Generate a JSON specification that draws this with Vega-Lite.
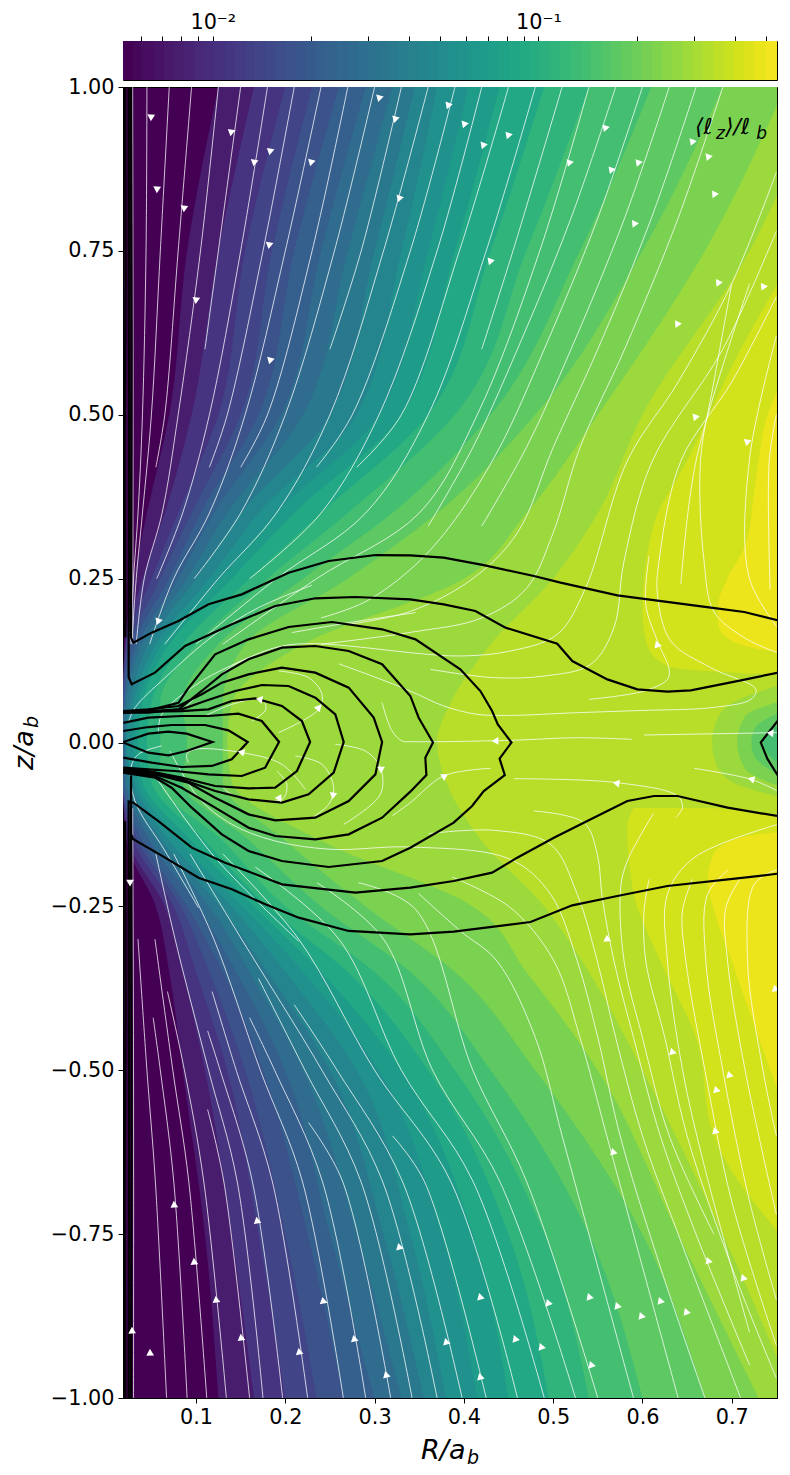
{"$schema":"https://vega.github.io/schema/vega-lite/v6.json","padding":{"left":10,"top":10,"right":13,"bottom":10},"background":"white","bounds":"flush","config":{"axis":{"grid":false,"domainColor":"black","tickColor":"black","labelColor":"black","labelFont":"DejaVu Sans","labelFontSize":20.8,"tickSize":5,"title":null}},"spacing":7,"vconcat":[
{"width":654,"height":39,"view":{"stroke":"black","strokeWidth":1},"data":{"values":[{"v":0.0053,"w":0.0057},{"v":0.0057,"w":0.0061},{"v":0.0061,"w":0.0066},{"v":0.0066,"w":0.0071},{"v":0.0071,"w":0.0076},{"v":0.0076,"w":0.0082},{"v":0.0082,"w":0.0088},{"v":0.0088,"w":0.0094},{"v":0.0094,"w":0.0101},{"v":0.0101,"w":0.0109},{"v":0.0109,"w":0.0117},{"v":0.0117,"w":0.0126},{"v":0.0126,"w":0.0135},{"v":0.0135,"w":0.0145},{"v":0.0145,"w":0.0156},{"v":0.0156,"w":0.0168},{"v":0.0168,"w":0.0181},{"v":0.0181,"w":0.0194},{"v":0.0194,"w":0.0209},{"v":0.0209,"w":0.0224},{"v":0.0224,"w":0.0241},{"v":0.0241,"w":0.0259},{"v":0.0259,"w":0.0278},{"v":0.0278,"w":0.0299},{"v":0.0299,"w":0.0321},{"v":0.0321,"w":0.0345},{"v":0.0345,"w":0.0371},{"v":0.0371,"w":0.0398},{"v":0.0398,"w":0.0428},{"v":0.0428,"w":0.046},{"v":0.046,"w":0.0494},{"v":0.0494,"w":0.0531},{"v":0.0531,"w":0.0571},{"v":0.0571,"w":0.0613},{"v":0.0613,"w":0.0659},{"v":0.0659,"w":0.0708},{"v":0.0708,"w":0.0761},{"v":0.0761,"w":0.0818},{"v":0.0818,"w":0.0879},{"v":0.0879,"w":0.0944},{"v":0.0944,"w":0.1015},{"v":0.1015,"w":0.109},{"v":0.109,"w":0.1172},{"v":0.1172,"w":0.126},{"v":0.126,"w":0.1354},{"v":0.1354,"w":0.1454},{"v":0.1454,"w":0.1563},{"v":0.1563,"w":0.168},{"v":0.168,"w":0.1805},{"v":0.1805,"w":0.194},{"v":0.194,"w":0.2085},{"v":0.2085,"w":0.224},{"v":0.224,"w":0.2407},{"v":0.2407,"w":0.259},{"v":0.259,"w":0.2784},{"v":0.2784,"w":0.299},{"v":0.299,"w":0.3213},{"v":0.3213,"w":0.345},{"v":0.345,"w":0.3708},{"v":0.3708,"w":0.398},{"v":0.398,"w":0.4277},{"v":0.4277,"w":0.46},{"v":0.46,"w":0.5},{"v":0.5,"w":0.54}]},"layer":[{"mark":{"type":"rect","strokeWidth":1,"clip":true},"encoding":{"x":{"field":"v","type":"quantitative","scale":{"type":"log","domain":[0.0053,0.54],"nice":false},"axis":{"orient":"top","domain":false,"values":[0.006,0.007,0.008,0.009,0.01,0.02,0.03,0.04,0.05,0.06,0.07,0.08,0.09,0.1,0.2,0.3,0.4,0.5],"labelExpr":"datum.value==0.01?'10⁻²':datum.value==0.1?'10⁻¹':''","labelOverlap":false,"labelPadding":4}},"x2":{"field":"w"},"stroke":{"field":"v","type":"quantitative","scale":{"type":"log","domain":[0.0053,0.54],"scheme":"viridis"},"legend":null},"color":{"field":"v","type":"quantitative","scale":{"type":"log","domain":[0.0053,0.54],"scheme":"viridis"},"legend":null}}}]},
{"width":654,"height":1311,"view":{"fill":"#440154","stroke":"black","strokeWidth":1},"encoding":{"x":{"field":"r","type":"quantitative","scale":{"domain":[0.0182,0.7507],"nice":false,"zero":false},"axis":{"values":[0.1,0.2,0.3,0.4,0.5,0.6,0.7],"format":".1f","labelPadding":4}},"y":{"field":"z","type":"quantitative","scale":{"domain":[-1,1],"nice":false},"axis":{"values":[-1,-0.75,-0.5,-0.25,0,0.25,0.5,0.75,1],"format":".2f","labelPadding":4}}},"layer":[
{"data":{"values":[
{"v":0.0075,"z":1,"r":0.125},{"v":0.0075,"z":0.75,"r":0.09},{"v":0.0075,"z":0.5,"r":0.07},{"v":0.0075,"z":0.35,"r":0.045},{"v":0.0075,"z":0.25,"r":0.03},{"v":0.0075,"z":0.15,"r":0.02},{"v":0.0075,"z":0.06,"r":0.018},{"v":0.0075,"z":0,"r":0.018},{"v":0.0075,"z":-0.06,"r":0.018},{"v":0.0075,"z":-0.15,"r":0.022},{"v":0.0075,"z":-0.25,"r":0.055},{"v":0.0075,"z":-0.35,"r":0.07},{"v":0.0075,"z":-0.5,"r":0.085},{"v":0.0075,"z":-0.75,"r":0.11},{"v":0.0075,"z":-1,"r":0.125},
{"v":0.0106,"z":1,"r":0.165},{"v":0.0106,"z":0.75,"r":0.125},{"v":0.0106,"z":0.5,"r":0.095},{"v":0.0106,"z":0.35,"r":0.065},{"v":0.0106,"z":0.25,"r":0.04},{"v":0.0106,"z":0.15,"r":0.021},{"v":0.0106,"z":0.06,"r":0.018},{"v":0.0106,"z":0,"r":0.018},{"v":0.0106,"z":-0.06,"r":0.018},{"v":0.0106,"z":-0.15,"r":0.025},{"v":0.0106,"z":-0.25,"r":0.065},{"v":0.0106,"z":-0.35,"r":0.085},{"v":0.0106,"z":-0.5,"r":0.11},{"v":0.0106,"z":-0.75,"r":0.14},{"v":0.0106,"z":-1,"r":0.165},
{"v":0.0134,"z":1,"r":0.2},{"v":0.0134,"z":0.75,"r":0.155},{"v":0.0134,"z":0.5,"r":0.125},{"v":0.0134,"z":0.35,"r":0.08},{"v":0.0134,"z":0.25,"r":0.05},{"v":0.0134,"z":0.15,"r":0.022},{"v":0.0134,"z":0.06,"r":0.018},{"v":0.0134,"z":0,"r":0.018},{"v":0.0134,"z":-0.06,"r":0.018},{"v":0.0134,"z":-0.15,"r":0.03},{"v":0.0134,"z":-0.25,"r":0.075},{"v":0.0134,"z":-0.35,"r":0.1},{"v":0.0134,"z":-0.5,"r":0.135},{"v":0.0134,"z":-0.75,"r":0.17},{"v":0.0134,"z":-1,"r":0.2},
{"v":0.0168,"z":1,"r":0.23},{"v":0.0168,"z":0.75,"r":0.185},{"v":0.0168,"z":0.5,"r":0.15},{"v":0.0168,"z":0.35,"r":0.095},{"v":0.0168,"z":0.25,"r":0.06},{"v":0.0168,"z":0.15,"r":0.026},{"v":0.0168,"z":0.06,"r":0.018},{"v":0.0168,"z":0,"r":0.018},{"v":0.0168,"z":-0.06,"r":0.018},{"v":0.0168,"z":-0.15,"r":0.035},{"v":0.0168,"z":-0.25,"r":0.083},{"v":0.0168,"z":-0.35,"r":0.115},{"v":0.0168,"z":-0.5,"r":0.155},{"v":0.0168,"z":-0.75,"r":0.2},{"v":0.0168,"z":-1,"r":0.235},
{"v":0.0213,"z":1,"r":0.26},{"v":0.0213,"z":0.75,"r":0.21},{"v":0.0213,"z":0.5,"r":0.17},{"v":0.0213,"z":0.35,"r":0.105},{"v":0.0213,"z":0.25,"r":0.07},{"v":0.0213,"z":0.15,"r":0.03},{"v":0.0213,"z":0.06,"r":0.019},{"v":0.0213,"z":0,"r":0.018},{"v":0.0213,"z":-0.06,"r":0.018},{"v":0.0213,"z":-0.15,"r":0.04},{"v":0.0213,"z":-0.25,"r":0.09},{"v":0.0213,"z":-0.35,"r":0.13},{"v":0.0213,"z":-0.5,"r":0.175},{"v":0.0213,"z":-0.75,"r":0.225},{"v":0.0213,"z":-1,"r":0.265},
{"v":0.0268,"z":1,"r":0.29},{"v":0.0268,"z":0.75,"r":0.24},{"v":0.0268,"z":0.5,"r":0.195},{"v":0.0268,"z":0.35,"r":0.12},{"v":0.0268,"z":0.25,"r":0.08},{"v":0.0268,"z":0.15,"r":0.035},{"v":0.0268,"z":0.06,"r":0.02},{"v":0.0268,"z":0,"r":0.018},{"v":0.0268,"z":-0.06,"r":0.02},{"v":0.0268,"z":-0.15,"r":0.048},{"v":0.0268,"z":-0.25,"r":0.102},{"v":0.0268,"z":-0.35,"r":0.145},{"v":0.0268,"z":-0.5,"r":0.2},{"v":0.0268,"z":-0.75,"r":0.25},{"v":0.0268,"z":-1,"r":0.3},
{"v":0.0338,"z":1,"r":0.32},{"v":0.0338,"z":0.75,"r":0.27},{"v":0.0338,"z":0.5,"r":0.22},{"v":0.0338,"z":0.35,"r":0.135},{"v":0.0338,"z":0.25,"r":0.09},{"v":0.0338,"z":0.15,"r":0.04},{"v":0.0338,"z":0.06,"r":0.022},{"v":0.0338,"z":0,"r":0.02},{"v":0.0338,"z":-0.06,"r":0.022},{"v":0.0338,"z":-0.15,"r":0.055},{"v":0.0338,"z":-0.25,"r":0.115},{"v":0.0338,"z":-0.35,"r":0.16},{"v":0.0338,"z":-0.5,"r":0.22},{"v":0.0338,"z":-0.75,"r":0.28},{"v":0.0338,"z":-1,"r":0.33},
{"v":0.0426,"z":1,"r":0.345},{"v":0.0426,"z":0.75,"r":0.3},{"v":0.0426,"z":0.5,"r":0.25},{"v":0.0426,"z":0.35,"r":0.15},{"v":0.0426,"z":0.25,"r":0.1},{"v":0.0426,"z":0.15,"r":0.047},{"v":0.0426,"z":0.06,"r":0.026},{"v":0.0426,"z":0,"r":0.021},{"v":0.0426,"z":-0.06,"r":0.026},{"v":0.0426,"z":-0.15,"r":0.062},{"v":0.0426,"z":-0.25,"r":0.127},{"v":0.0426,"z":-0.35,"r":0.18},{"v":0.0426,"z":-0.5,"r":0.25},{"v":0.0426,"z":-0.75,"r":0.31},{"v":0.0426,"z":-1,"r":0.355},
{"v":0.0537,"z":1,"r":0.37},{"v":0.0537,"z":0.75,"r":0.33},{"v":0.0537,"z":0.5,"r":0.28},{"v":0.0537,"z":0.35,"r":0.17},{"v":0.0537,"z":0.25,"r":0.115},{"v":0.0537,"z":0.15,"r":0.055},{"v":0.0537,"z":0.06,"r":0.03},{"v":0.0537,"z":0,"r":0.022},{"v":0.0537,"z":-0.06,"r":0.03},{"v":0.0537,"z":-0.15,"r":0.07},{"v":0.0537,"z":-0.25,"r":0.14},{"v":0.0537,"z":-0.35,"r":0.2},{"v":0.0537,"z":-0.5,"r":0.28},{"v":0.0537,"z":-0.75,"r":0.34},{"v":0.0537,"z":-1,"r":0.38},
{"v":0.0678,"z":1,"r":0.405},{"v":0.0678,"z":0.75,"r":0.36},{"v":0.0678,"z":0.5,"r":0.305},{"v":0.0678,"z":0.35,"r":0.19},{"v":0.0678,"z":0.25,"r":0.127},{"v":0.0678,"z":0.15,"r":0.062},{"v":0.0678,"z":0.06,"r":0.035},{"v":0.0678,"z":0,"r":0.03},{"v":0.0678,"z":-0.06,"r":0.035},{"v":0.0678,"z":-0.15,"r":0.082},{"v":0.0678,"z":-0.25,"r":0.152},{"v":0.0678,"z":-0.35,"r":0.22},{"v":0.0678,"z":-0.5,"r":0.305},{"v":0.0678,"z":-0.75,"r":0.375},{"v":0.0678,"z":-1,"r":0.415},
{"v":0.0855,"z":1,"r":0.44},{"v":0.0855,"z":0.75,"r":0.39},{"v":0.0855,"z":0.5,"r":0.33},{"v":0.0855,"z":0.35,"r":0.21},{"v":0.0855,"z":0.25,"r":0.14},{"v":0.0855,"z":0.15,"r":0.07},{"v":0.0855,"z":0.06,"r":0.04},{"v":0.0855,"z":0,"r":0.035},{"v":0.0855,"z":-0.06,"r":0.04},{"v":0.0855,"z":-0.15,"r":0.095},{"v":0.0855,"z":-0.25,"r":0.165},{"v":0.0855,"z":-0.35,"r":0.24},{"v":0.0855,"z":-0.5,"r":0.33},{"v":0.0855,"z":-0.75,"r":0.41},{"v":0.0855,"z":-1,"r":0.45},
{"v":0.108,"z":1,"r":0.49},{"v":0.108,"z":0.75,"r":0.43},{"v":0.108,"z":0.5,"r":0.36},{"v":0.108,"z":0.35,"r":0.24},{"v":0.108,"z":0.25,"r":0.16},{"v":0.108,"z":0.15,"r":0.085},{"v":0.108,"z":0.06,"r":0.05},{"v":0.108,"z":0,"r":0.045},{"v":0.108,"z":-0.06,"r":0.05},{"v":0.108,"z":-0.15,"r":0.11},{"v":0.108,"z":-0.25,"r":0.18},{"v":0.108,"z":-0.35,"r":0.27},{"v":0.108,"z":-0.5,"r":0.36},{"v":0.108,"z":-0.75,"r":0.45},{"v":0.108,"z":-1,"r":0.495},
{"v":0.136,"z":1,"r":0.54},{"v":0.136,"z":0.75,"r":0.47},{"v":0.136,"z":0.5,"r":0.39},{"v":0.136,"z":0.35,"r":0.27},{"v":0.136,"z":0.25,"r":0.18},{"v":0.136,"z":0.15,"r":0.1},{"v":0.136,"z":0.06,"r":0.06},{"v":0.136,"z":0,"r":0.06},{"v":0.136,"z":-0.06,"r":0.06},{"v":0.136,"z":-0.15,"r":0.13},{"v":0.136,"z":-0.25,"r":0.2},{"v":0.136,"z":-0.35,"r":0.3},{"v":0.136,"z":-0.5,"r":0.39},{"v":0.136,"z":-0.75,"r":0.49},{"v":0.136,"z":-1,"r":0.54},
{"v":0.171,"z":1,"r":0.61},{"v":0.171,"z":0.75,"r":0.53},{"v":0.171,"z":0.5,"r":0.43},{"v":0.171,"z":0.35,"r":0.32},{"v":0.171,"z":0.25,"r":0.22},{"v":0.171,"z":0.15,"r":0.125},{"v":0.171,"z":0.06,"r":0.085},{"v":0.171,"z":0,"r":0.09},{"v":0.171,"z":-0.06,"r":0.085},{"v":0.171,"z":-0.15,"r":0.16},{"v":0.171,"z":-0.25,"r":0.24},{"v":0.171,"z":-0.35,"r":0.34},{"v":0.171,"z":-0.5,"r":0.43},{"v":0.171,"z":-0.75,"r":0.54},{"v":0.171,"z":-1,"r":0.6},
{"v":0.216,"z":1,"r":0.69},{"v":0.216,"z":0.75,"r":0.6},{"v":0.216,"z":0.5,"r":0.48},{"v":0.216,"z":0.35,"r":0.37},{"v":0.216,"z":0.25,"r":0.27},{"v":0.216,"z":0.15,"r":0.155},{"v":0.216,"z":0.06,"r":0.13},{"v":0.216,"z":0,"r":0.13},{"v":0.216,"z":-0.06,"r":0.13},{"v":0.216,"z":-0.15,"r":0.2},{"v":0.216,"z":-0.25,"r":0.29},{"v":0.216,"z":-0.35,"r":0.39},{"v":0.216,"z":-0.5,"r":0.48},{"v":0.216,"z":-0.75,"r":0.6},{"v":0.216,"z":-1,"r":0.67},
{"v":0.273,"z":1,"r":0.76},{"v":0.273,"z":0.75,"r":0.67},{"v":0.273,"z":0.5,"r":0.55},{"v":0.273,"z":0.35,"r":0.47},{"v":0.273,"z":0.25,"r":0.4},{"v":0.273,"z":0.15,"r":0.22},{"v":0.273,"z":0.06,"r":0.14},{"v":0.273,"z":0,"r":0.135},{"v":0.273,"z":-0.06,"r":0.14},{"v":0.273,"z":-0.15,"r":0.24},{"v":0.273,"z":-0.25,"r":0.41},{"v":0.273,"z":-0.35,"r":0.47},{"v":0.273,"z":-0.5,"r":0.55},{"v":0.273,"z":-0.75,"r":0.64},{"v":0.273,"z":-1,"r":0.73},
{"v":0.33,"z":1,"r":0.8},{"v":0.33,"z":0.75,"r":0.72},{"v":0.33,"z":0.5,"r":0.6},{"v":0.33,"z":0.35,"r":0.55},{"v":0.33,"z":0.25,"r":0.5},{"v":0.33,"z":0.15,"r":0.43},{"v":0.33,"z":0.06,"r":0.385},{"v":0.33,"z":0,"r":0.37},{"v":0.33,"z":-0.06,"r":0.38},{"v":0.33,"z":-0.15,"r":0.42},{"v":0.33,"z":-0.25,"r":0.49},{"v":0.33,"z":-0.35,"r":0.54},{"v":0.33,"z":-0.5,"r":0.6},{"v":0.33,"z":-0.75,"r":0.69},{"v":0.33,"z":-1,"r":0.77}
]},"mark":{"type":"area","orient":"horizontal","clip":true,"interpolate":"monotone"},"encoding":{"x":{"field":"r","type":"quantitative","stack":null},"x2":{"datum":0.7507},"detail":{"field":"v","type":"quantitative"},"color":{"field":"v","type":"quantitative","scale":{"type":"log","domain":[0.0053,0.54],"scheme":"viridis"},"legend":null}}},
{"data":{"values":[
{"g":"a","v":0.397,"z":0.105,"r":0.72,"b":0.76},{"g":"a","v":0.397,"z":0.115,"r":0.63,"b":0.76},{"g":"a","v":0.397,"z":0.15,"r":0.605,"b":0.76},{"g":"a","v":0.397,"z":0.2,"r":0.6,"b":0.76},{"g":"a","v":0.397,"z":0.33,"r":0.612,"b":0.76},{"g":"a","v":0.397,"z":0.43,"r":0.65,"b":0.76},{"g":"a","v":0.397,"z":0.6,"r":0.71,"b":0.76},{"g":"a","v":0.397,"z":0.72,"r":0.76,"b":0.76},
{"g":"b","v":0.477,"z":0.135,"r":0.76,"b":0.76},{"g":"b","v":0.477,"z":0.155,"r":0.7,"b":0.76},{"g":"b","v":0.477,"z":0.18,"r":0.685,"b":0.76},{"g":"b","v":0.477,"z":0.21,"r":0.685,"b":0.76},{"g":"b","v":0.477,"z":0.25,"r":0.695,"b":0.76},{"g":"b","v":0.477,"z":0.3,"r":0.715,"b":0.76},{"g":"b","v":0.477,"z":0.38,"r":0.725,"b":0.76},{"g":"b","v":0.477,"z":0.43,"r":0.73,"b":0.76},{"g":"b","v":0.477,"z":0.5,"r":0.74,"b":0.76},{"g":"b","v":0.477,"z":0.56,"r":0.76,"b":0.76},
{"g":"c","v":0.397,"z":-0.1,"r":0.59,"b":0.68},{"g":"c","v":0.397,"z":-0.115,"r":0.585,"b":0.76},{"g":"c","v":0.397,"z":-0.13,"r":0.583,"b":0.76},{"g":"c","v":0.397,"z":-0.23,"r":0.59,"b":0.76},{"g":"c","v":0.397,"z":-0.333,"r":0.62,"b":0.76},{"g":"c","v":0.397,"z":-0.45,"r":0.66,"b":0.76},{"g":"c","v":0.397,"z":-0.6,"r":0.68,"b":0.76},{"g":"c","v":0.397,"z":-0.76,"r":0.76,"b":0.76},
{"g":"d","v":0.477,"z":-0.135,"r":0.76,"b":0.76},{"g":"d","v":0.477,"z":-0.145,"r":0.71,"b":0.76},{"g":"d","v":0.477,"z":-0.17,"r":0.68,"b":0.76},{"g":"d","v":0.477,"z":-0.21,"r":0.673,"b":0.76},{"g":"d","v":0.477,"z":-0.255,"r":0.68,"b":0.76},{"g":"d","v":0.477,"z":-0.333,"r":0.7,"b":0.76},{"g":"d","v":0.477,"z":-0.45,"r":0.73,"b":0.76},{"g":"d","v":0.477,"z":-0.56,"r":0.76,"b":0.76},
{"g":"e","v":0.273,"z":0.09,"r":0.76,"b":0.76},{"g":"e","v":0.273,"z":0.06,"r":0.7,"b":0.76},{"g":"e","v":0.273,"z":0.03,"r":0.682,"b":0.76},{"g":"e","v":0.273,"z":0,"r":0.678,"b":0.76},{"g":"e","v":0.273,"z":-0.03,"r":0.682,"b":0.76},{"g":"e","v":0.273,"z":-0.06,"r":0.7,"b":0.76},{"g":"e","v":0.273,"z":-0.085,"r":0.76,"b":0.76},
{"g":"f","v":0.216,"z":0.065,"r":0.76,"b":0.76},{"g":"f","v":0.216,"z":0.04,"r":0.715,"b":0.76},{"g":"f","v":0.216,"z":0,"r":0.706,"b":0.76},{"g":"f","v":0.216,"z":-0.04,"r":0.715,"b":0.76},{"g":"f","v":0.216,"z":-0.07,"r":0.76,"b":0.76},
{"g":"h","v":0.171,"z":0.05,"r":0.76,"b":0.76},{"g":"h","v":0.171,"z":0.02,"r":0.725,"b":0.76},{"g":"h","v":0.171,"z":0,"r":0.722,"b":0.76},{"g":"h","v":0.171,"z":-0.02,"r":0.725,"b":0.76},{"g":"h","v":0.171,"z":-0.055,"r":0.76,"b":0.76},
{"g":"i","v":0.136,"z":0.035,"r":0.76,"b":0.76},{"g":"i","v":0.136,"z":0,"r":0.735,"b":0.76},{"g":"i","v":0.136,"z":-0.04,"r":0.76,"b":0.76}
]},"mark":{"type":"area","orient":"horizontal","clip":true,"interpolate":"monotone"},"encoding":{"x":{"field":"r","type":"quantitative","stack":null},"x2":{"field":"b"},"detail":{"field":"g"},"color":{"field":"v","type":"quantitative","scale":{"type":"log","domain":[0.0053,0.54],"scheme":"viridis"},"legend":null}}},
{"data":{"values":[
{"c":"s1","r":0.045,"z":1},{"c":"s1","r":0.044,"z":0.75},{"c":"s1","r":0.04,"z":0.5},{"c":"s1","r":0.035,"z":0.35},{"c":"s1","r":0.03,"z":0.25},{"c":"s1","r":0.026,"z":0.15},
{"c":"s2","r":0.07,"z":1},{"c":"s2","r":0.06,"z":0.75},{"c":"s2","r":0.05,"z":0.5},{"c":"s2","r":0.04,"z":0.35},{"c":"s2","r":0.033,"z":0.25},{"c":"s2","r":0.028,"z":0.15},
{"c":"s3","r":0.095,"z":1},{"c":"s3","r":0.08,"z":0.75},{"c":"s3","r":0.065,"z":0.5},{"c":"s3","r":0.055,"z":0.42},
{"c":"s4","r":0.125,"z":1},{"c":"s4","r":0.105,"z":0.75},{"c":"s4","r":0.08,"z":0.5},{"c":"s4","r":0.062,"z":0.35},{"c":"s4","r":0.042,"z":0.25},{"c":"s4","r":0.033,"z":0.15},
{"c":"s5","r":0.15,"z":1},{"c":"s5","r":0.125,"z":0.75},{"c":"s5","r":0.11,"z":0.6},
{"c":"s6","r":0.18,"z":1},{"c":"s6","r":0.15,"z":0.75},{"c":"s6","r":0.115,"z":0.5},{"c":"s6","r":0.085,"z":0.35},{"c":"s6","r":0.056,"z":0.25},
{"c":"s7","r":0.21,"z":1},{"c":"s7","r":0.175,"z":0.75},{"c":"s7","r":0.135,"z":0.5},{"c":"s7","r":0.115,"z":0.42},
{"c":"s8","r":0.24,"z":1},{"c":"s8","r":0.2,"z":0.75},{"c":"s8","r":0.155,"z":0.5},{"c":"s8","r":0.115,"z":0.35},{"c":"s8","r":0.075,"z":0.25},{"c":"s8","r":0.048,"z":0.15},
{"c":"s9","r":0.27,"z":1},{"c":"s9","r":0.23,"z":0.75},{"c":"s9","r":0.18,"z":0.5},{"c":"s9","r":0.15,"z":0.42},
{"c":"s10","r":0.3,"z":1},{"c":"s10","r":0.255,"z":0.75},{"c":"s10","r":0.2,"z":0.5},{"c":"s10","r":0.15,"z":0.35},{"c":"s10","r":0.098,"z":0.25},
{"c":"s11","r":0.33,"z":1},{"c":"s11","r":0.285,"z":0.75},{"c":"s11","r":0.25,"z":0.6},
{"c":"s12","r":0.36,"z":1},{"c":"s12","r":0.31,"z":0.75},{"c":"s12","r":0.25,"z":0.5},{"c":"s12","r":0.19,"z":0.35},{"c":"s12","r":0.125,"z":0.25},{"c":"s12","r":0.065,"z":0.15},
{"c":"s13","r":0.39,"z":1},{"c":"s13","r":0.34,"z":0.75},{"c":"s13","r":0.275,"z":0.5},{"c":"s13","r":0.235,"z":0.42},
{"c":"s14","r":0.42,"z":1},{"c":"s14","r":0.37,"z":0.75},{"c":"s14","r":0.305,"z":0.5},{"c":"s14","r":0.24,"z":0.35},{"c":"s14","r":0.16,"z":0.25},
{"c":"s15","r":0.45,"z":1},{"c":"s15","r":0.395,"z":0.75},{"c":"s15","r":0.33,"z":0.5},{"c":"s15","r":0.28,"z":0.42},
{"c":"s16","r":0.48,"z":1},{"c":"s16","r":0.425,"z":0.75},{"c":"s16","r":0.36,"z":0.5},{"c":"s16","r":0.29,"z":0.35},{"c":"s16","r":0.19,"z":0.25},{"c":"s16","r":0.1,"z":0.15},
{"c":"s17","r":0.51,"z":1},{"c":"s17","r":0.455,"z":0.75},{"c":"s17","r":0.42,"z":0.6},
{"c":"s18","r":0.54,"z":1},{"c":"s18","r":0.485,"z":0.75},{"c":"s18","r":0.415,"z":0.5},{"c":"s18","r":0.35,"z":0.35},{"c":"s18","r":0.235,"z":0.25},{"c":"s18","r":0.13,"z":0.15},
{"c":"t1","r":0.57,"z":1},{"c":"t1","r":0.52,"z":0.8},{"c":"t1","r":0.46,"z":0.6},{"c":"t1","r":0.41,"z":0.45},{"c":"t1","r":0.36,"z":0.33},
{"c":"t2","r":0.6,"z":1},{"c":"t2","r":0.55,"z":0.8},{"c":"t2","r":0.49,"z":0.6},{"c":"t2","r":0.44,"z":0.45},{"c":"t2","r":0.39,"z":0.34},{"c":"t2","r":0.345,"z":0.27},{"c":"t2","r":0.29,"z":0.215},{"c":"t2","r":0.24,"z":0.19},
{"c":"t3","r":0.63,"z":1},{"c":"t3","r":0.58,"z":0.8},{"c":"t3","r":0.52,"z":0.6},{"c":"t3","r":0.47,"z":0.45},{"c":"t3","r":0.42,"z":0.33},
{"c":"t4","r":0.66,"z":1},{"c":"t4","r":0.61,"z":0.8},{"c":"t4","r":0.55,"z":0.6},{"c":"t4","r":0.5,"z":0.45},{"c":"t4","r":0.46,"z":0.32},{"c":"t4","r":0.41,"z":0.25},{"c":"t4","r":0.34,"z":0.2},{"c":"t4","r":0.27,"z":0.18},
{"c":"t5","r":0.69,"z":1},{"c":"t5","r":0.64,"z":0.8},{"c":"t5","r":0.58,"z":0.6},{"c":"t5","r":0.53,"z":0.45},{"c":"t5","r":0.5,"z":0.32},{"c":"t5","r":0.47,"z":0.235},{"c":"t5","r":0.42,"z":0.19},{"c":"t5","r":0.34,"z":0.168},{"c":"t5","r":0.24,"z":0.15},
{"c":"a","r":0.75,"z":0.87},{"c":"a","r":0.7,"z":0.7},{"c":"a","r":0.64,"z":0.55},{"c":"a","r":0.583,"z":0.4294},{"c":"a","r":0.5364,"z":0.2362},{"c":"a","r":0.5046,"z":0.165},{"c":"a","r":0.4522,"z":0.1396},{"c":"a","r":0.3961,"z":0.132},{"c":"a","r":0.34,"z":0.137},{"c":"a","r":0.2897,"z":0.1447},{"c":"a","r":0.2336,"z":0.1508},{"c":"a","r":0.1962,"z":0.1472},{"c":"a","r":0.1588,"z":0.1294},{"c":"a","r":0.1326,"z":0.109},{"c":"a","r":0.0839,"z":0.048},
{"c":"b","r":0.75,"z":0.78},{"c":"b","r":0.69,"z":0.6},{"c":"b","r":0.611,"z":0.4294},{"c":"b","r":0.5794,"z":0.2768},{"c":"b","r":0.568,"z":0.175},{"c":"b","r":0.542,"z":0.1192},{"c":"b","r":0.4896,"z":0.1014},{"c":"b","r":0.4335,"z":0.0989},{"c":"b","r":0.3624,"z":0.1116},
{"c":"d","r":0.75,"z":0.68},{"c":"d","r":0.7,"z":0.55},{"c":"d","r":0.643,"z":0.4294},{"c":"d","r":0.6186,"z":0.2768},{"c":"d","r":0.6168,"z":0.226},{"c":"d","r":0.6317,"z":0.1548},{"c":"d","r":0.6766,"z":0.1141},{"c":"d","r":0.7271,"z":0.0811},{"c":"d","r":0.7215,"z":0.0658},{"c":"d","r":0.6766,"z":0.0531},{"c":"d","r":0.6018,"z":0.049},{"c":"d","r":0.527,"z":0.0455},{"c":"d","r":0.452,"z":0.0414},{"c":"d","r":0.4148,"z":0.043},{"c":"d","r":0.3774,"z":0.0557},{"c":"d","r":0.34,"z":0.0785},{"c":"d","r":0.3,"z":0.1},{"c":"d","r":0.26,"z":0.12},
{"c":"e","r":0.7,"z":0.7},{"c":"e","r":0.68,"z":0.55},{"c":"e","r":0.665,"z":0.4294},{"c":"e","r":0.669,"z":0.2768},{"c":"e","r":0.68,"z":0.2},{"c":"e","r":0.714,"z":0.16},{"c":"e","r":0.751,"z":0.137},
{"c":"f","r":0.75,"z":0.62},{"c":"f","r":0.7196,"z":0.4294},{"c":"f","r":0.7196,"z":0.2515},{"c":"f","r":0.7514,"z":0.175},
{"c":"h","r":0.75,"z":0.5},{"c":"h","r":0.742,"z":0.4294},{"c":"h","r":0.743,"z":0.2336},
{"c":"i","r":0.72,"z":0.7},{"c":"i","r":0.66,"z":0.4294},{"c":"i","r":0.643,"z":0.2413},
{"c":"j","r":0.6074,"z":0.2845},{"c":"j","r":0.6037,"z":0.2108},{"c":"j","r":0.6168,"z":0.1548},{"c":"j","r":0.6299,"z":0.1116},{"c":"j","r":0.628,"z":0.0963},{"c":"j","r":0.6018,"z":0.0785},{"c":"j","r":0.54,"z":0.0658},
{"c":"k","r":0.588,"z":0.0048},{"c":"k","r":0.527,"z":0.0073},{"c":"k","r":0.4522,"z":0.0033},{"c":"k","r":0.34,"z":0.0013},{"c":"k","r":0.3308,"z":0.0023},{"c":"k","r":0.3196,"z":0.0175},{"c":"k","r":0.3084,"z":0.0608},
{"c":"l","r":0.6018,"z":0.0114},{"c":"l","r":0.7514,"z":0.015},
{"c":"m","r":0.4298,"z":-0.0394},{"c":"m","r":0.3774,"z":-0.051},{"c":"m","r":0.34,"z":-0.0918},{"c":"m","r":0.3196,"z":-0.1121},
{"c":"n","r":0.4559,"z":-0.0552},{"c":"n","r":0.5719,"z":-0.0613},{"c":"n","r":0.6392,"z":-0.0816},{"c":"n","r":0.6448,"z":-0.0994},{"c":"n","r":0.6373,"z":-0.1147},
{"c":"o","r":0.6579,"z":-0.0394},{"c":"o","r":0.7215,"z":-0.0562},{"c":"o","r":0.7514,"z":-0.074},
{"c":"p","r":0.4784,"z":-0.1045},{"c":"p","r":0.5345,"z":-0.1223},{"c":"p","r":0.5494,"z":-0.1706},{"c":"p","r":0.555,"z":-0.2367},{"c":"p","r":0.5681,"z":-0.3333},{"c":"p","r":0.59,"z":-0.45},{"c":"p","r":0.62,"z":-0.6},{"c":"p","r":0.66,"z":-0.75},{"c":"p","r":0.72,"z":-0.95},
{"c":"q","r":0.6123,"z":-0.108},{"c":"q","r":0.5831,"z":-0.1808},{"c":"q","r":0.5756,"z":-0.2215},{"c":"q","r":0.5794,"z":-0.3333},{"c":"q","r":0.6,"z":-0.45},{"c":"q","r":0.63,"z":-0.6},{"c":"q","r":0.68,"z":-0.75},
{"c":"u","r":0.3606,"z":-0.1391},{"c":"u","r":0.4335,"z":-0.134},{"c":"u","r":0.4971,"z":-0.1554},{"c":"u","r":0.527,"z":-0.2316},{"c":"u","r":0.5494,"z":-0.3333},{"c":"u","r":0.57,"z":-0.45},{"c":"u","r":0.6,"z":-0.6},{"c":"u","r":0.64,"z":-0.75},{"c":"u","r":0.71,"z":-1},
{"c":"w","r":0.0709,"z":-0.013},{"c":"w","r":0.1027,"z":-0.0842},{"c":"w","r":0.1401,"z":-0.1248},{"c":"w","r":0.1887,"z":-0.1503},{"c":"w","r":0.2523,"z":-0.163},{"c":"w","r":0.34,"z":-0.1594},{"c":"w","r":0.4522,"z":-0.1783},{"c":"w","r":0.4971,"z":-0.2316},{"c":"w","r":0.527,"z":-0.3333},{"c":"w","r":0.55,"z":-0.45},{"c":"w","r":0.575,"z":-0.6},{"c":"w","r":0.62,"z":-0.8},{"c":"w","r":0.67,"z":-1},
{"c":"x","r":0.3868,"z":-0.2052},{"c":"x","r":0.4522,"z":-0.252},{"c":"x","r":0.5008,"z":-0.3333},{"c":"x","r":0.53,"z":-0.45},{"c":"x","r":0.56,"z":-0.6},{"c":"x","r":0.6,"z":-0.8},{"c":"x","r":0.64,"z":-1},
{"c":"y","r":0.3494,"z":-0.2306},{"c":"y","r":0.3961,"z":-0.2876},{"c":"y","r":0.437,"z":-0.3333},{"c":"y","r":0.48,"z":-0.45},{"c":"y","r":0.51,"z":-0.6},{"c":"y","r":0.55,"z":-0.8},{"c":"y","r":0.59,"z":-1},
{"c":"z","r":0.7514,"z":-0.125},{"c":"z","r":0.6579,"z":-0.1757},{"c":"z","r":0.628,"z":-0.2316},{"c":"z","r":0.628,"z":-0.3333},{"c":"z","r":0.645,"z":-0.5},{"c":"z","r":0.67,"z":-0.65},{"c":"z","r":0.72,"z":-0.9},
{"c":"a1","r":0.6074,"z":-0.2088},{"c":"a1","r":0.6018,"z":-0.2571},{"c":"a1","r":0.6037,"z":-0.3333},{"c":"a1","r":0.625,"z":-0.45},{"c":"a1","r":0.65,"z":-0.6},{"c":"a1","r":0.7,"z":-0.8},{"c":"a1","r":0.75,"z":-0.97},
{"c":"a2","r":0.656,"z":-0.2088},{"c":"a2","r":0.6448,"z":-0.2571},{"c":"a2","r":0.6486,"z":-0.3333},{"c":"a2","r":0.67,"z":-0.5},{"c":"a2","r":0.7,"z":-0.7},{"c":"a2","r":0.75,"z":-0.92},
{"c":"a3","r":0.6953,"z":-0.195},{"c":"a3","r":0.6729,"z":-0.2316},{"c":"a3","r":0.671,"z":-0.3333},{"c":"a3","r":0.69,"z":-0.5},{"c":"a3","r":0.72,"z":-0.7},{"c":"a3","r":0.75,"z":-0.85},
{"c":"a4","r":0.7103,"z":-0.2062},{"c":"a4","r":0.6934,"z":-0.252},{"c":"a4","r":0.6953,"z":-0.3333},{"c":"a4","r":0.715,"z":-0.5},{"c":"a4","r":0.75,"z":-0.72},
{"c":"a5","r":0.7514,"z":-0.1935},{"c":"a5","r":0.7252,"z":-0.2164},{"c":"a5","r":0.7177,"z":-0.3333},{"c":"a5","r":0.735,"z":-0.5},{"c":"a5","r":0.75,"z":-0.6},
{"c":"b1","r":0.035,"z":-0.3},{"c":"b1","r":0.045,"z":-0.5},{"c":"b1","r":0.0544,"z":-0.669},{"c":"b1","r":0.067,"z":-1},
{"c":"b2","r":0.052,"z":-0.42},{"c":"b2","r":0.06,"z":-0.5},{"c":"b2","r":0.075,"z":-0.669},{"c":"b2","r":0.09,"z":-1},
{"c":"b3","r":0.054,"z":-0.3},{"c":"b3","r":0.074,"z":-0.5},{"c":"b3","r":0.0918,"z":-0.669},{"c":"b3","r":0.112,"z":-1},
{"c":"b4","r":0.068,"z":-0.38},{"c":"b4","r":0.087,"z":-0.5},{"c":"b4","r":0.1086,"z":-0.669},{"c":"b4","r":0.134,"z":-1},
{"c":"b5","r":0.113,"z":-0.56},{"c":"b5","r":0.131,"z":-0.669},{"c":"b5","r":0.16,"z":-1},
{"c":"b6","r":0.055,"z":-0.17},{"c":"b6","r":0.0765,"z":-0.3},{"c":"b6","r":0.114,"z":-0.5},{"c":"b6","r":0.146,"z":-0.669},{"c":"b6","r":0.175,"z":-1},
{"c":"b7","r":0.113,"z":-0.44},{"c":"b7","r":0.127,"z":-0.5},{"c":"b7","r":0.163,"z":-0.669},{"c":"b7","r":0.197,"z":-1},
{"c":"b8","r":0.118,"z":-0.38},{"c":"b8","r":0.145,"z":-0.5},{"c":"b8","r":0.1853,"z":-0.669},{"c":"b8","r":0.225,"z":-1},
{"c":"b9","r":0.075,"z":-0.17},{"c":"b9","r":0.12,"z":-0.3},{"c":"b9","r":0.172,"z":-0.5},{"c":"b9","r":0.219,"z":-0.669},{"c":"b9","r":0.265,"z":-1},
{"c":"b10","r":0.16,"z":-0.42},{"c":"b10","r":0.188,"z":-0.5},{"c":"b10","r":0.2414,"z":-0.669},{"c":"b10","r":0.29,"z":-1},
{"c":"b11","r":0.226,"z":-0.58},{"c":"b11","r":0.264,"z":-0.669},{"c":"b11","r":0.318,"z":-1},
{"c":"b12","r":0.17,"z":-0.36},{"c":"b12","r":0.222,"z":-0.5},{"c":"b12","r":0.2845,"z":-0.669},{"c":"b12","r":0.342,"z":-1},
{"c":"b13","r":0.0933,"z":-0.17},{"c":"b13","r":0.151,"z":-0.3},{"c":"b13","r":0.241,"z":-0.5},{"c":"b13","r":0.3087,"z":-0.669},{"c":"b13","r":0.37,"z":-1},
{"c":"b14","r":0.21,"z":-0.4},{"c":"b14","r":0.258,"z":-0.5},{"c":"b14","r":0.331,"z":-0.669},{"c":"b14","r":0.398,"z":-1},
{"c":"b15","r":0.32,"z":-0.6},{"c":"b15","r":0.3555,"z":-0.669},{"c":"b15","r":0.425,"z":-1},
{"c":"b16","r":0.13,"z":-0.17},{"c":"b16","r":0.215,"z":-0.3},{"c":"b16","r":0.3,"z":-0.5},{"c":"b16","r":0.385,"z":-0.669},{"c":"b16","r":0.46,"z":-1},
{"c":"b17","r":0.1663,"z":-0.19},{"c":"b17","r":0.26,"z":-0.3},{"c":"b17","r":0.33,"z":-0.5},{"c":"b17","r":0.41,"z":-0.669},{"c":"b17","r":0.49,"z":-1},
{"c":"b18","r":0.2355,"z":-0.214},{"c":"b18","r":0.31,"z":-0.3},{"c":"b18","r":0.365,"z":-0.5},{"c":"b18","r":0.44,"z":-0.669},{"c":"b18","r":0.525,"z":-1},
{"c":"b19","r":0.282,"z":-0.214},{"c":"b19","r":0.3458,"z":-0.2545},{"c":"b19","r":0.41,"z":-0.5},{"c":"b19","r":0.47,"z":-0.669},{"c":"b19","r":0.55,"z":-1},
{"c":"k1","r":0.11,"z":0.0404},{"c":"k1","r":0.14,"z":0.058},{"c":"k1","r":0.1737,"z":0.0659},{"c":"k1","r":0.1782,"z":0.0506},{"c":"k1","r":0.1625,"z":0.0328},
{"c":"k2","r":0.1925,"z":0.1091},{"c":"k2","r":0.2261,"z":0.0989},{"c":"k2","r":0.2411,"z":0.0735},{"c":"k2","r":0.2373,"z":0.0506},{"c":"k2","r":0.1925,"z":0.015},
{"c":"k3","r":0.0578,"z":0.015},{"c":"k3","r":0.0616,"z":0.043},{"c":"k3","r":0.1064,"z":0.0938},{"c":"k3","r":0.1588,"z":0.1294},
{"c":"k4","r":0.024,"z":0.03},{"c":"k4","r":0.0316,"z":0.053},{"c":"k4","r":0.0653,"z":0.0989},{"c":"k4","r":0.1214,"z":0.165},{"c":"k4","r":0.17,"z":0.2057},{"c":"k4","r":0.23,"z":0.24},
{"c":"k5","r":0.256,"z":-0.0028},{"c":"k5","r":0.2897,"z":-0.013},{"c":"k5","r":0.3065,"z":-0.0384},{"c":"k5","r":0.3065,"z":-0.0791},{"c":"k5","r":0.2654,"z":-0.1249},
{"c":"k6","r":0.2112,"z":-0.0206},{"c":"k6","r":0.2411,"z":-0.0333},{"c":"k6","r":0.2542,"z":-0.0689},{"c":"k6","r":0.2486,"z":-0.0943},{"c":"k6","r":0.2299,"z":-0.1147},
{"c":"k7","r":0.1906,"z":-0.0435},{"c":"k7","r":0.2017,"z":-0.0638},{"c":"k7","r":0.1962,"z":-0.0867},{"c":"k7","r":0.14,"z":-0.0791},{"c":"k7","r":0.1289,"z":-0.0664},
{"c":"k8","r":0.0915,"z":-0.0308},{"c":"k8","r":0.0896,"z":-0.018},{"c":"k8","r":0.0989,"z":-0.0104},{"c":"k8","r":0.1513,"z":-0.0155},{"c":"k8","r":0.1962,"z":-0.0333},{"c":"k8","r":0.2224,"z":-0.0715},
{"c":"k9","r":0.0615,"z":-0.0053},{"c":"k9","r":0.0354,"z":-0.018},{"c":"k9","r":0.0271,"z":-0.0384},{"c":"k9","r":0.0316,"z":-0.0892},{"c":"k9","r":0.0653,"z":-0.1655},{"c":"k9","r":0.1027,"z":-0.252},
{"c":"k10","r":0.054,"z":-0.051},{"c":"k10","r":0.1214,"z":-0.1757},{"c":"k10","r":0.215,"z":-0.303},
{"c":"k11","r":0.2073,"z":0.1676},{"c":"k11","r":0.271,"z":0.1828},{"c":"k11","r":0.3458,"z":0.1981},
{"c":"v1","r":0.029,"z":1},{"c":"v1","r":0.0295,"z":0.5},{"c":"v1","r":0.029,"z":0.15},
{"c":"v2","r":0.029,"z":-0.1},{"c":"v2","r":0.03,"z":-0.5},{"c":"v2","r":0.03,"z":-1}
]},"mark":{"type":"line","order":null,"clip":true,"color":"white","strokeWidth":0.8,"opacity":0.95,"interpolate":"catmull-rom"},"encoding":{"detail":{"field":"c"}}},
{"data":{"values":[
{"c":"1","r":0.0185,"z":0.0008},{"c":"1","r":0.0466,"z":0.0135},{"c":"1","r":0.069,"z":0.0165},{"c":"1","r":0.0895,"z":0.0135},{"c":"1","r":0.1183,"z":0.0008},{"c":"1","r":0.0895,"z":-0.013},{"c":"1","r":0.069,"z":-0.0196},{"c":"1","r":0.0466,"z":-0.0155},{"c":"1","r":0.0185,"z":0},
{"c":"2","r":0.0185,"z":0.0176},{"c":"2","r":0.0466,"z":0.0236},{"c":"2","r":0.0727,"z":0.0267},{"c":"2","r":0.1101,"z":0.0267},{"c":"2","r":0.1363,"z":0.0186},{"c":"2","r":0.1579,"z":0.0008},{"c":"2","r":0.14,"z":-0.0257},{"c":"2","r":0.1176,"z":-0.0358},{"c":"2","r":0.0839,"z":-0.0374},{"c":"2","r":0.0503,"z":-0.0308},{"c":"2","r":0.0185,"z":-0.0231},
{"c":"3","r":0.0185,"z":0.03},{"c":"3","r":0.0466,"z":0.0379},{"c":"3","r":0.0839,"z":0.0404},{"c":"3","r":0.1138,"z":0.0404},{"c":"3","r":0.1475,"z":0.044},{"c":"3","r":0.1736,"z":0.0328},{"c":"3","r":0.193,"z":0.0008},{"c":"3","r":0.1774,"z":-0.0384},{"c":"3","r":0.1512,"z":-0.0511},{"c":"3","r":0.1138,"z":-0.0486},{"c":"3","r":0.0765,"z":-0.0435},{"c":"3","r":0.0466,"z":-0.041},{"c":"3","r":0.0185,"z":-0.0384},
{"c":"4","r":0.0185,"z":0.047},{"c":"4","r":0.0466,"z":0.047},{"c":"4","r":0.0839,"z":0.048},{"c":"4","r":0.1139,"z":0.0506},{"c":"4","r":0.1401,"z":0.0633},{"c":"4","r":0.1663,"z":0.0674},{"c":"4","r":0.1962,"z":0.0557},{"c":"4","r":0.2186,"z":0.0328},{"c":"4","r":0.2278,"z":0.0008},{"c":"4","r":0.213,"z":-0.0435},{"c":"4","r":0.1887,"z":-0.0689},{"c":"4","r":0.1588,"z":-0.07},{"c":"4","r":0.1214,"z":-0.0664},{"c":"4","r":0.0839,"z":-0.0536},{"c":"4","r":0.0466,"z":-0.0435},{"c":"4","r":0.0185,"z":-0.041},
{"c":"5","r":0.0185,"z":0.0455},{"c":"5","r":0.0466,"z":0.048},{"c":"5","r":0.0839,"z":0.0506},{"c":"5","r":0.1102,"z":0.0633},{"c":"5","r":0.1438,"z":0.0786},{"c":"5","r":0.1738,"z":0.0877},{"c":"5","r":0.2037,"z":0.0862},{"c":"5","r":0.2336,"z":0.0684},{"c":"5","r":0.256,"z":0.043},{"c":"5","r":0.2654,"z":0.0008},{"c":"5","r":0.2542,"z":-0.046},{"c":"5","r":0.2261,"z":-0.0791},{"c":"5","r":0.1962,"z":-0.0918},{"c":"5","r":0.1588,"z":-0.0867},{"c":"5","r":0.1214,"z":-0.074},{"c":"5","r":0.0839,"z":-0.0562},{"c":"5","r":0.054,"z":-0.046},{"c":"5","r":0.0185,"z":-0.0425},
{"c":"6","r":0.0185,"z":0.048},{"c":"6","r":0.0466,"z":0.0506},{"c":"6","r":0.0803,"z":0.0557},{"c":"6","r":0.1064,"z":0.0735},{"c":"6","r":0.1289,"z":0.0913},{"c":"6","r":0.1588,"z":0.104},{"c":"6","r":0.1962,"z":0.1142},{"c":"6","r":0.2336,"z":0.1065},{"c":"6","r":0.271,"z":0.0837},{"c":"6","r":0.299,"z":0.0379},{"c":"6","r":0.3084,"z":0.0008},{"c":"6","r":0.3009,"z":-0.0486},{"c":"6","r":0.271,"z":-0.0892},{"c":"6","r":0.2336,"z":-0.1147},{"c":"6","r":0.1887,"z":-0.1187},{"c":"6","r":0.1588,"z":-0.1096},{"c":"6","r":0.1214,"z":-0.0842},{"c":"6","r":0.0915,"z":-0.0613},{"c":"6","r":0.054,"z":-0.0486},{"c":"6","r":0.0185,"z":-0.0435},
{"c":"7","r":0.0185,"z":0.0455},{"c":"7","r":0.0466,"z":0.0455},{"c":"7","r":0.0803,"z":0.0506},{"c":"7","r":0.1064,"z":0.0786},{"c":"7","r":0.1289,"z":0.104},{"c":"7","r":0.1588,"z":0.1269},{"c":"7","r":0.1962,"z":0.1447},{"c":"7","r":0.2336,"z":0.1472},{"c":"7","r":0.271,"z":0.1396},{"c":"7","r":0.3084,"z":0.1193},{"c":"7","r":0.34,"z":0.071},{"c":"7","r":0.3494,"z":0.0378},{"c":"7","r":0.3654,"z":0},{"c":"7","r":0.3568,"z":-0.0232},{"c":"7","r":0.358,"z":-0.0496},{"c":"7","r":0.34,"z":-0.075},{"c":"7","r":0.3084,"z":-0.1147},{"c":"7","r":0.271,"z":-0.1401},{"c":"7","r":0.2336,"z":-0.1477},{"c":"7","r":0.1887,"z":-0.1426},{"c":"7","r":0.1588,"z":-0.13},{"c":"7","r":0.1214,"z":-0.0994},{"c":"7","r":0.0839,"z":-0.069},{"c":"7","r":0.054,"z":-0.0511},{"c":"7","r":0.0185,"z":-0.046},
{"c":"8","r":0.0185,"z":0.0455},{"c":"8","r":0.0466,"z":0.049},{"c":"8","r":0.0803,"z":0.0604},{"c":"8","r":0.0906,"z":0.0815},{"c":"8","r":0.1214,"z":0.1345},{"c":"8","r":0.1588,"z":0.1574},{"c":"8","r":0.2037,"z":0.1762},{"c":"8","r":0.2523,"z":0.1838},{"c":"8","r":0.3084,"z":0.1727},{"c":"8","r":0.3458,"z":0.1574},{"c":"8","r":0.396,"z":0.1116},{"c":"8","r":0.4185,"z":0.0785},{"c":"8","r":0.4316,"z":0.048},{"c":"8","r":0.438,"z":0.0277},{"c":"8","r":0.4533,"z":0},{"c":"8","r":0.44,"z":-0.0247},{"c":"8","r":0.4458,"z":-0.0496},{"c":"8","r":0.4223,"z":-0.074},{"c":"8","r":0.4092,"z":-0.0969},{"c":"8","r":0.3886,"z":-0.1223},{"c":"8","r":0.34,"z":-0.1605},{"c":"8","r":0.3084,"z":-0.1808},{"c":"8","r":0.2485,"z":-0.1899},{"c":"8","r":0.1962,"z":-0.1808},{"c":"8","r":0.1588,"z":-0.1655},{"c":"8","r":0.1289,"z":-0.1401},{"c":"8","r":0.0952,"z":-0.0994},{"c":"8","r":0.0727,"z":-0.069},{"c":"8","r":0.0541,"z":-0.0536},{"c":"8","r":0.0185,"z":-0.046},
{"c":"9t","r":0.0245,"z":1},{"c":"9t","r":0.0248,"z":0.5},{"c":"9t","r":0.0245,"z":0.1},{"c":"9t","r":0.0279,"z":0.0887},{"c":"9t","r":0.054,"z":0.1065},{"c":"9t","r":0.0877,"z":0.1472},{"c":"9t","r":0.1401,"z":0.1803},{"c":"9t","r":0.1887,"z":0.2082},{"c":"9t","r":0.2336,"z":0.22},{"c":"9t","r":0.2785,"z":0.222},{"c":"9t","r":0.34,"z":0.2184},{"c":"9t","r":0.3774,"z":0.2107},{"c":"9t","r":0.4129,"z":0.2006},{"c":"9t","r":0.4466,"z":0.1752},{"c":"9t","r":0.5046,"z":0.1507},{"c":"9t","r":0.5214,"z":0.1243},{"c":"9t","r":0.5607,"z":0.0963},{"c":"9t","r":0.5943,"z":0.081},{"c":"9t","r":0.628,"z":0.0775},{"c":"9t","r":0.6542,"z":0.0795},{"c":"9t","r":0.7103,"z":0.0948},{"c":"9t","r":0.7514,"z":0.1065},
{"c":"9b","r":0.0245,"z":-1},{"c":"9b","r":0.0248,"z":-0.5},{"c":"9b","r":0.0245,"z":-0.09},{"c":"9b","r":0.0298,"z":-0.0918},{"c":"9b","r":0.0578,"z":-0.1198},{"c":"9b","r":0.0952,"z":-0.1604},{"c":"9b","r":0.1326,"z":-0.1833},{"c":"9b","r":0.1962,"z":-0.2164},{"c":"9b","r":0.2785,"z":-0.2291},{"c":"9b","r":0.34,"z":-0.2215},{"c":"9b","r":0.3886,"z":-0.2113},{"c":"9b","r":0.4316,"z":-0.1986},{"c":"9b","r":0.4597,"z":-0.1757},{"c":"9b","r":0.5008,"z":-0.1452},{"c":"9b","r":0.5382,"z":-0.1198},{"c":"9b","r":0.5831,"z":-0.0893},{"c":"9b","r":0.613,"z":-0.0816},{"c":"9b","r":0.6392,"z":-0.0816},{"c":"9b","r":0.6953,"z":-0.0994},{"c":"9b","r":0.7514,"z":-0.1122},
{"c":"10t","r":0.0272,"z":1},{"c":"10t","r":0.0278,"z":0.6},{"c":"10t","r":0.0272,"z":0.16},{"c":"10t","r":0.0298,"z":0.1523},{"c":"10t","r":0.0503,"z":0.1676},{"c":"10t","r":0.0803,"z":0.1854},{"c":"10t","r":0.114,"z":0.2108},{"c":"10t","r":0.1513,"z":0.226},{"c":"10t","r":0.2037,"z":0.2591},{"c":"10t","r":0.2485,"z":0.2769},{"c":"10t","r":0.3009,"z":0.286},{"c":"10t","r":0.34,"z":0.2855},{"c":"10t","r":0.3774,"z":0.2819},{"c":"10t","r":0.4223,"z":0.2707},{"c":"10t","r":0.4784,"z":0.254},{"c":"10t","r":0.5083,"z":0.2438},{"c":"10t","r":0.5719,"z":0.2245},{"c":"10t","r":0.6766,"z":0.2057},{"c":"10t","r":0.714,"z":0.1991},{"c":"10t","r":0.7514,"z":0.1863},
{"c":"10b","r":0.0272,"z":-1},{"c":"10b","r":0.0278,"z":-0.6},{"c":"10b","r":0.0272,"z":-0.05},{"c":"10b","r":0.0272,"z":-0.14},{"c":"10b","r":0.0298,"z":-0.1477},{"c":"10b","r":0.0653,"z":-0.1757},{"c":"10b","r":0.1027,"z":-0.2062},{"c":"10b","r":0.1401,"z":-0.224},{"c":"10b","r":0.1776,"z":-0.2469},{"c":"10b","r":0.215,"z":-0.2672},{"c":"10b","r":0.271,"z":-0.2875},{"c":"10b","r":0.34,"z":-0.2927},{"c":"10b","r":0.3886,"z":-0.2886},{"c":"10b","r":0.4746,"z":-0.2739},{"c":"10b","r":0.5214,"z":-0.2484},{"c":"10b","r":0.5719,"z":-0.2342},{"c":"10b","r":0.628,"z":-0.2189},{"c":"10b","r":0.714,"z":-0.2062},{"c":"10b","r":0.7514,"z":-0.2001},
{"c":"11","r":0.7514,"z":0.033},{"c":"11","r":0.7325,"z":0},{"c":"11","r":0.74,"z":-0.025},{"c":"11","r":0.7514,"z":-0.05},
{"c":"12","r":0.0205,"z":1},{"c":"12","r":0.0212,"z":0.7},{"c":"12","r":0.02,"z":0.45},{"c":"12","r":0.0208,"z":0.16},
{"c":"13","r":0.0205,"z":-0.12},{"c":"13","r":0.0212,"z":-0.4},{"c":"13","r":0.02,"z":-0.7},{"c":"13","r":0.0208,"z":-1}
]},"mark":{"type":"line","order":null,"clip":true,"color":"black","strokeWidth":2.2},"encoding":{"detail":{"field":"c"}}},
{"data":{"values":[{"r":0.0496,"z":0.953,"a":183},{"r":0.0563,"z":0.843,"a":183},{"r":0.0866,"z":0.814,"a":185},{"r":0.1,"z":0.674,"a":185},{"r":0.1392,"z":0.93,"a":190},{"r":0.165,"z":0.884,"a":190},{"r":0.1829,"z":0.901,"a":190},{"r":0.1818,"z":0.758,"a":190},{"r":0.1829,"z":0.582,"a":195},{"r":0.305,"z":0.982,"a":195},{"r":0.3229,"z":0.95,"a":195},{"r":0.3822,"z":0.971,"a":200},{"r":0.4002,"z":0.942,"a":200},{"r":0.4214,"z":0.91,"a":200},{"r":0.4494,"z":0.925,"a":200},{"r":0.3274,"z":0.829,"a":200},{"r":0.2288,"z":0.884,"a":195},{"r":0.4293,"z":0.733,"a":200},{"r":0.5178,"z":0.883,"a":200},{"r":0.5581,"z":0.936,"a":200},{"r":0.5648,"z":0.872,"a":200},{"r":0.595,"z":0.883,"a":200},{"r":0.5906,"z":0.79,"a":205},{"r":0.6387,"z":0.637,"a":205},{"r":0.6555,"z":0.915,"a":200},{"r":0.6734,"z":0.892,"a":200},{"r":0.6802,"z":0.835,"a":205},{"r":0.6846,"z":0.7,"a":205},{"r":0.6589,"z":0.495,"a":200},{"r":0.7171,"z":0.457,"a":190},{"r":0.735,"z":0.694,"a":205},{"r":0.0574,"z":0.184,"a":200},{"r":0.1706,"z":0.066,"a":280},{"r":0.2378,"z":0.054,"a":40},{"r":0.1504,"z":-0.0145,"a":285},{"r":0.1918,"z":-0.0847,"a":270},{"r":0.2534,"z":-0.0816,"a":190},{"r":0.3072,"z":-0.042,"a":180},{"r":0.4349,"z":0.0023,"a":270},{"r":0.3789,"z":-0.0511,"a":60},{"r":0.5704,"z":-0.0618,"a":280},{"r":0.7429,"z":0.0145,"a":275},{"r":0.7216,"z":-0.0557,"a":285},{"r":0.6163,"z":0.1503,"a":340},{"r":0.0261,"z":-0.2144,"a":180},{"r":0.5603,"z":-0.2983,"a":355},{"r":0.7485,"z":-0.3746,"a":350},{"r":0.6331,"z":-0.4708,"a":345},{"r":0.697,"z":-0.5059,"a":345},{"r":0.6824,"z":-0.5288,"a":345},{"r":0.6813,"z":-0.5914,"a":345},{"r":0.567,"z":-0.6234,"a":345},{"r":0.0283,"z":-0.8965,"a":358},{"r":0.0485,"z":-0.9301,"a":358},{"r":0.0754,"z":-0.7043,"a":355},{"r":0.0978,"z":-0.7913,"a":355},{"r":0.1224,"z":-0.8493,"a":352},{"r":0.1504,"z":-0.9072,"a":352},{"r":0.1683,"z":-0.7287,"a":350},{"r":0.2154,"z":-0.9286,"a":350},{"r":0.2422,"z":-0.8508,"a":350},{"r":0.277,"z":-0.9088,"a":348},{"r":0.3128,"z":-0.9637,"a":345},{"r":0.3274,"z":-0.7684,"a":345},{"r":0.38,"z":-0.9133,"a":345},{"r":0.4181,"z":-0.8447,"a":345},{"r":0.4181,"z":-0.9668,"a":345},{"r":0.4573,"z":-0.9088,"a":340},{"r":0.4864,"z":-0.921,"a":340},{"r":0.4942,"z":-0.8539,"a":340},{"r":0.5424,"z":-0.9484,"a":340},{"r":0.5402,"z":-0.8447,"a":340},{"r":0.5715,"z":-0.8585,"a":340},{"r":0.5984,"z":-0.8737,"a":340},{"r":0.6197,"z":-0.8508,"a":340},{"r":0.6488,"z":-0.8676,"a":340},{"r":0.6734,"z":-0.7897,"a":340},{"r":0.7126,"z":-0.8157,"a":340}]},"mark":{"type":"point","shape":"triangle-up","filled":true,"color":"white","opacity":1,"size":60,"clip":true},"encoding":{"angle":{"field":"a","type":"quantitative","scale":{"domain":[0,360],"range":[0,360]}}}},
{"data":{"values":[{"r":0.6589,"z":0.9285,"t":"⟨ℓ"},{"r":0.6925,"z":0.9285,"t":"⟩/ℓ"}]},"mark":{"type":"text","align":"left","baseline":"alphabetic","font":"DejaVu Sans","fontStyle":"italic","fontSize":22,"color":"black"},"encoding":{"text":{"field":"t"}}},
{"data":{"values":[{"r":0.6825,"z":0.9209,"t":"z"},{"r":0.7275,"z":0.9209,"t":"b"}]},"mark":{"type":"text","align":"left","baseline":"alphabetic","font":"DejaVu Sans","fontStyle":"italic","fontSize":17,"color":"black"},"encoding":{"text":{"field":"t"}}},
{"data":{"values":[{"r":0.352,"z":-1.0934,"t":"R/a"}]},"mark":{"type":"text","align":"left","baseline":"alphabetic","font":"DejaVu Sans","fontStyle":"italic","fontSize":27,"color":"black"},"encoding":{"text":{"field":"t"}}},
{"data":{"values":[{"r":0.4035,"z":-1.101,"t":"b"}]},"mark":{"type":"text","align":"left","baseline":"alphabetic","font":"DejaVu Sans","fontStyle":"italic","fontSize":19,"color":"black"},"encoding":{"text":{"field":"t"}}},
{"data":{"values":[{"r":-0.0826,"z":-0.042,"t":"z/a"}]},"mark":{"type":"text","align":"left","baseline":"alphabetic","angle":270,"font":"DejaVu Sans","fontStyle":"italic","fontSize":27,"color":"black"},"encoding":{"text":{"field":"t"}}},
{"data":{"values":[{"r":-0.077,"z":0.022,"t":"b"}]},"mark":{"type":"text","align":"left","baseline":"alphabetic","angle":270,"font":"DejaVu Sans","fontStyle":"italic","fontSize":19,"color":"black"},"encoding":{"text":{"field":"t"}}}
]}]}
